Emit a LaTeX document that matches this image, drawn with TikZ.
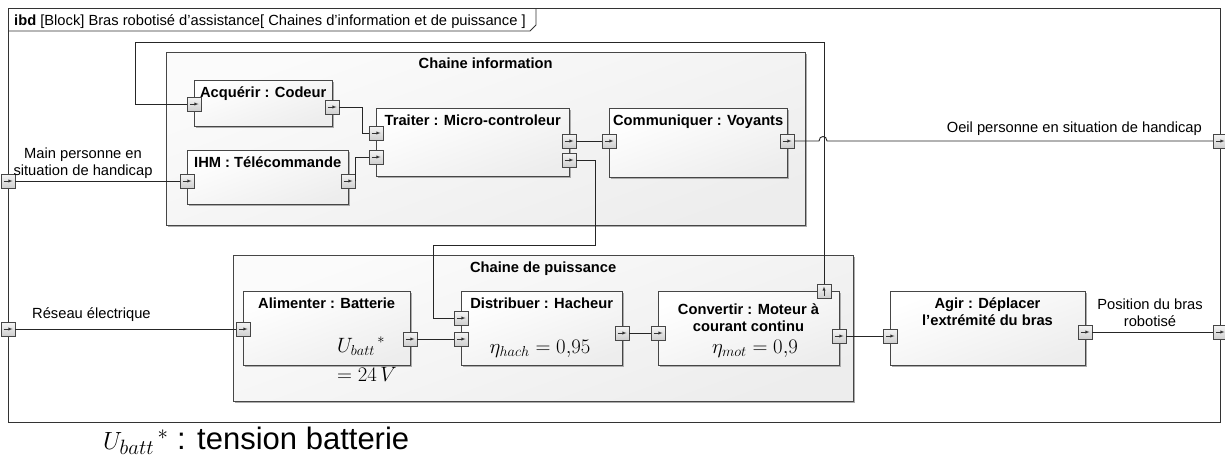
\documentclass[tikz,border=0pt]{standalone}
\usepackage[no-math]{fontspec}
\setmainfont{Liberation Sans}
\usetikzlibrary{arrows,shadows}

\begin{document}
\begin{tikzpicture}[x=1pt,y=-1pt,>=latex,font=\fontsize{14.7}{17}\selectfont,
    bloc/.style={draw=gray!55!black, anchor=north west, inner sep=0pt, top color=white, bottom color=gray!14, shading angle=20, drop shadow={shadow xshift=2pt, shadow yshift=-2pt, fill=gray!65, opacity=1}},
    chaine/.style={bloc, top color=gray!3, bottom color=gray!14, shading angle=20},
    titre/.style={font=\fontsize{14.7}{17}\selectfont\bfseries, inner sep=0pt, align=center, anchor=base},
    portbase/.style={draw=gray!55!black, minimum size=14pt, inner sep=0pt, top color=gray!8, bottom color=gray!38},
    port/.style={portbase, path picture={\draw[->, gray!40!black, line width=0.45pt] ([xshift=-4.5pt]path picture bounding box.center) -- ([xshift=4.5pt]path picture bounding box.center);}},
    porthaut/.style={portbase, path picture={\draw[->, gray!40!black, line width=0.45pt] ([yshift=-4.5pt]path picture bounding box.center) -- ([yshift=4.5pt]path picture bounding box.center);}},
    fil/.style={draw=black!85, line width=0.9pt},
    texte/.style={inner sep=0pt, align=center},
    formule/.style={inner sep=0pt, font=\fontsize{21}{29}\selectfont}]
    \useasboundingbox (0,0) rectangle (1225,459);
        % cadre ibd
        \node [draw=black!80, line width=0.8pt, anchor=north west, minimum width=1212pt, minimum height=414pt] at (8,8) (cadre) {};
        \node [inner sep=0pt, anchor=base west] at (14,25) (cadreT) {\textbf{ibd} [Block] Bras robotisé d'assistance[ Chaines d'information et de puissance ]};
        \draw [black!80, line width=0.8pt] (8,31) -- (530,31) -- (536,25) -- (536,8);
        % chaines
        \node [chaine, minimum width=639pt, minimum height=173pt] at (166,52) (ci) {};
        \node [titre] at ([yshift=-16pt]ci.north) (ciT) {Chaine information};
        \node [chaine, minimum width=620pt, minimum height=146pt] at (233,255) (cp) {};
        \node [titre] at ([yshift=-17pt]cp.north) (cpT) {Chaine de puissance};
        % blocs
        \node [bloc, minimum width=138pt, minimum height=46pt] at (194,80) (acq) {};
        \node [titre] at ([yshift=-17pt]acq.north) (acqT) {Acquérir : Codeur};
        \node [bloc, minimum width=193pt, minimum height=68pt] at (376,108) (trt) {};
        \node [titre] at ([yshift=-17pt]trt.north) (trtT) {Traiter : Micro-controleur};
        \node [bloc, minimum width=161pt, minimum height=54pt] at (187,150) (ihm) {};
        \node [titre] at ([yshift=-17pt]ihm.north) (ihmT) {IHM : Télécommande};
        \node [bloc, minimum width=178pt, minimum height=69pt] at (609,108) (com) {};
        \node [titre] at ([yshift=-17pt]com.north) (comT) {Communiquer : Voyants};
        \node [bloc, minimum width=167pt, minimum height=74pt] at (243,291) (ali) {};
        \node [titre] at ([yshift=-17pt]ali.north) (aliT) {Alimenter : Batterie};
        \node [bloc, minimum width=161pt, minimum height=74pt] at (461,291) (dis) {};
        \node [titre] at ([yshift=-17pt]dis.north) (disT) {Distribuer : Hacheur};
        \node [bloc, minimum width=181pt, minimum height=74pt] at (658,291) (con) {};
        \node [titre, anchor=north] at (748.5,303.5) (conT) {Convertir : Moteur à\\courant continu};
        \node [bloc, minimum width=195pt, minimum height=74pt] at (890,291) (agi) {};
        \node [titre, anchor=north] at (987.5,297.5) (agiT) {Agir : Déplacer\\l'extrémité du bras};
        % formules
        \node [formule, align=left, anchor=north west] at (337,337) (aliEq) {${U_{batt}}^{\,*}$\\$= 24\,V$};
        \node [formule, anchor=base] at (540,353) (disEq) {$\eta_{hach} = 0{,}95$};
        \node [formule, anchor=base] at (755,353) (conEq) {$\eta_{mot} = 0{,}9$};
        % ports
        \node [port] at (8,181) (pMain) {};
        \node [port] at (8,329) (pReseau) {};
        \node [port] at (1220,141) (pOeil) {};
        \node [port] at (1220,332) (pPos) {};
        \node [port] at (194,104) (acqIn) {};
        \node [port] at (332,107) (acqOut) {};
        \node [port] at (376,133) (trtIn1) {};
        \node [port] at (376,157) (trtIn2) {};
        \node [port] at (569,141) (trtOut1) {};
        \node [port] at (569,160) (trtOut2) {};
        \node [port] at (187,181) (ihmIn) {};
        \node [port] at (348,181) (ihmOut) {};
        \node [port] at (609,141) (comIn) {};
        \node [port] at (787,141) (comOut) {};
        \node [port] at (243,329) (aliIn) {};
        \node [port] at (410,339) (aliOut) {};
        \node [port] at (461,318) (disIn1) {};
        \node [port] at (461,339) (disIn2) {};
        \node [port] at (622,333) (disOut) {};
        \node [port] at (658,333) (conIn) {};
        \node [porthaut] at (824,291) (conHaut) {};
        \node [port] at (839,336) (conOut) {};
        \node [port] at (890,336) (agiIn) {};
        \node [port] at (1085,332) (agiOut) {};
        % liaisons
        \coordinate (boucle) at (135,42);
        \coordinate (saut) at (823,141);
        \coordinate (coudeH) at (595,245);
        \coordinate (coudeB) at (433,245);
        \draw [fil] (pMain.east) -- (ihmIn.west);
        \draw [fil] (ihmOut.east) |- (trtIn2.west);
        \draw [fil] (acqOut.east) -- ++(23,0) |- (trtIn1.west);
        \draw [fil] (trtOut1.east) -- (comIn.west);
        \draw [fil] (trtOut2.east) -| (coudeH) -- (coudeB) |- (disIn1.west);
        \draw [fil] (conHaut.north) |- (boucle) |- (acqIn.west);
        \draw [fil] (comOut.east) -- ([xshift=-4pt]saut) .. controls ([shift={(-4,-6)}]saut) and ([shift={(4,-6)}]saut) .. ([xshift=4pt]saut) -- (pOeil.west);
        \draw [fil] (pReseau.east) -- (aliIn.west);
        \draw [fil] (aliOut.east) -- (disIn2.west);
        \draw [fil] (disOut.east) -- (conIn.west);
        \draw [fil] (conOut.east) -- (agiIn.west);
        \draw [fil] (agiOut.east) -- (pPos.west);
        % textes des liaisons
        \node [texte, anchor=north] at (83,148) (lblMain) {Main personne en\\situation de handicap};
        \node [texte, anchor=base west] at (32,318) (lblReseau) {Réseau électrique};
        \node [texte, anchor=base east] at (1202,132) (lblOeil) {Oeil personne en situation de handicap};
        \node [texte, anchor=north] at (1150,299) (lblPos) {Position du bras\\robotisé};
        \node [inner sep=0pt, anchor=base west, font=\fontsize{31}{34}\selectfont] at (103,449) (legende) {${U_{batt}}^{\,*}$ : tension batterie};
\end{tikzpicture}
\end{document}
